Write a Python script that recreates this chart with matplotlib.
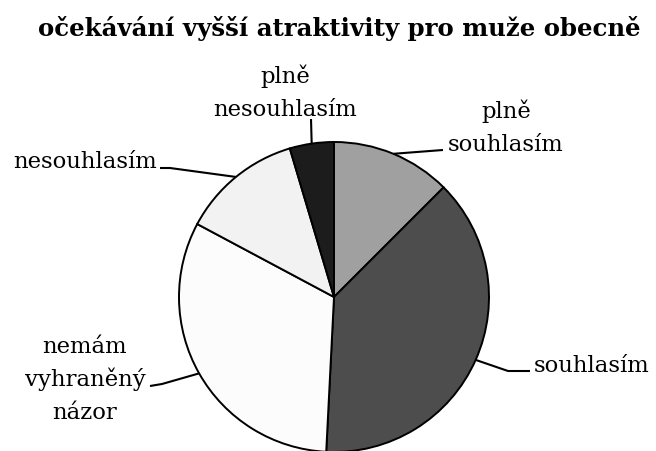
import numpy as np
import matplotlib
matplotlib.use("Agg")
import matplotlib.pyplot as plt

title = "očekávání vyšší atraktivity pro muže obecně"
categories = ["plně\nsouhlasím", "souhlasím", "nemám\nvyhraněný\nnázor", "nesouhlasím", "plně\nnesouhlasím"]
values = [12.5, 38.3, 32.0, 12.6, 4.6]
colors = ["#a0a0a0", "#4d4d4d", "#fcfcfc", "#f2f2f2", "#1c1c1c"]

W, H = 656, 452
CX, CY, R = 334, 298, 155

fig = plt.figure(figsize=(W / 100, H / 100), dpi=100)
ax = fig.add_axes([0, 0, 1, 1])

def px(x, y):
    return ((x - CX) / R, (CY - y) / R)

wedges, _ = ax.pie(values, colors=colors, startangle=90, counterclock=False,
                   radius=1.0, center=(0, 0), frame=True,
                   wedgeprops=dict(edgecolor="black", linewidth=1.4))
ax.set_xlim(-CX / R, (W - CX) / R)
ax.set_ylim((CY - H) / R, CY / R)
ax.axis("off")

font = "DejaVu Serif"
fs = 16.4
LS = 33  # baseline spacing in pixels
# x anchor, first baseline y, alignment, leader elbow points (pixels)
label_specs = [
    dict(x=506, y=118, ha="center", path=[(443, 151)]),
    dict(x=534, y=372, ha="left", path=[(508, 372), (530, 372)]),
    dict(x=85, y=353, ha="center", path=[(162, 385), (150, 387)]),
    dict(x=157, y=168, ha="right", path=[(170, 169), (160, 169)]),
    dict(x=285, y=83, ha="center", path=[(311, 120)]),
]

for w, lab, spec in zip(wedges, categories, label_specs):
    ang = np.deg2rad((w.theta1 + w.theta2) / 2)
    pts = [(np.cos(ang), np.sin(ang))] + [px(*p) for p in spec["path"]]
    xs, ys = zip(*pts)
    ax.plot(xs, ys, color="black", lw=1.5, solid_capstyle="butt")
    for i, line in enumerate(lab.split("\n")):
        tx, ty = px(spec["x"], spec["y"] + i * LS)
        ax.text(tx, ty, line, ha=spec["ha"], va="baseline", fontsize=fs,
                family=font, color="black")

tx, ty = px(339, 36)
ax.text(tx, ty, title, ha="center", va="baseline",
        fontsize=17.6, fontweight="bold", family=font)

fig.savefig("out.png", dpi=100)
